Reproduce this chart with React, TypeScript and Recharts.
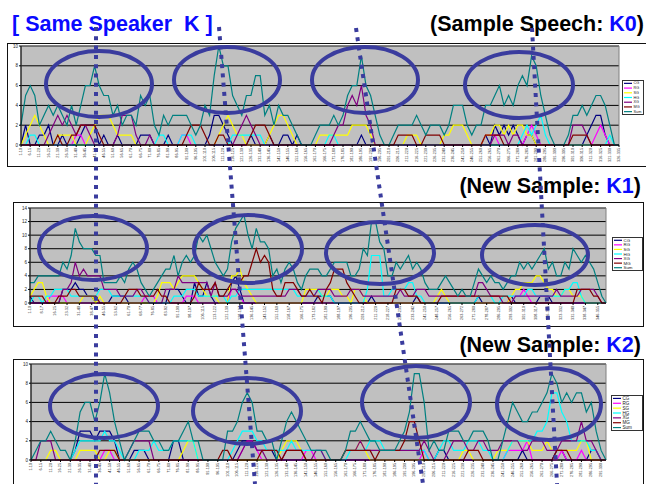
import React from 'react';
import { LineChart, Line, XAxis, YAxis, CartesianGrid, Legend, ReferenceArea } from 'recharts';

const seriesNames = ['CG', 'RG', 'SG', 'HG', 'XG', 'MG', 'Sum'];
const seriesColors = ['#000080', '#FF00FF', '#FFFF00', '#00FFFF', '#800080', '#800000', '#008080'];

// ---------- Panel 1 : Sample Speech K0 (131 windows) ----------
const p1CG = [
  0,2,0,0,1,1,2,0,0,1, 0,0,0,1,2,2,2,0,1,0, 0,1,0,0,0,0,1,1,1,0, 0,0,1,0,0,0,0,0,0,0,
  0,1,3,3,2,1,0,0,0,0, 1,0,0,0,1,0,0,1,1,0, 1,0,0,0,0,0,0,0,0,0, 0,0,0,0,1,0,0,0,0,0,
  0,0,0,0,0,0,0,0,0,0, 0,0,0,0,0,0,0,0,0,0, 0,1,0,2,1,2,1,2,1,0, 1,1,0,0,0,0,0,0,0,0,
  0,0,0,1,2,3,3,1,0,0,0,
];
const p1RG = [
  0,0,0,0,0,0,0,0,0,0, 0,0,1,1,0,0,0,0,0,0, 0,0,0,0,0,0,0,0,0,0, 0,0,0,0,0,1,1,0,0,0,
  0,0,0,0,0,0,0,0,0,0, 0,0,0,0,0,0,0,0,0,0, 0,0,0,0,0,0,0,0,0,0, 0,0,0,0,0,0,0,0,0,0,
  0,0,0,0,0,0,0,0,0,0, 0,0,0,0,0,0,0,0,0,0, 0,1,1,1,0,0,0,0,0,0, 1,2,1,0,0,0,0,0,0,0,
  0,0,0,0,0,1,2,1,0,0,0,
];
const p1SG = [
  0,1,2,3,2,1,0,0,1,1, 1,1,0,0,0,1,2,3,3,3, 2,1,1,1,1,0,0,0,0,0, 0,0,0,0,0,0,0,0,0,0,
  0,0,0,1,2,3,2,1,1,0, 0,0,0,0,1,2,3,3,2,1, 0,0,0,0,0,1,1,1,1,1, 1,1,2,2,2,2,1,0,0,0,
  0,0,0,0,1,1,1,0,0,0, 0,0,1,1,2,2,2,1,0,0, 0,1,1,2,2,1,2,1,2,2, 1,1,0,0,0,0,0,0,0,0,
  0,0,0,0,0,0,0,0,0,0,0,
];
const p1HG = [
  0,0,1,1,0,0,0,0,0,0, 0,0,0,0,0,0,0,0,0,0, 0,0,0,0,0,0,0,0,0,0, 1,1,0,0,0,1,1,1,0,0,
  0,0,0,0,0,0,1,1,1,1, 1,1,1,0,0,0,0,0,0,0, 0,0,0,0,0,0,0,1,1,0, 0,0,0,0,0,0,0,0,0,0,
  0,0,0,0,0,0,0,0,0,0, 0,0,0,0,0,0,0,0,0,0, 0,0,0,0,0,0,0,0,0,1, 2,1,2,3,1,0,0,0,0,0,
  0,0,0,0,0,0,0,0,1,0,0,
];
const p1XG = [
  0,0,0,0,0,0,1,2,3,2, 3,2,1,2,2,1,0,0,0,0, 0,1,3,3,3,1,0,0,1,0, 0,0,0,0,0,0,0,0,0,0,
  0,0,0,0,0,0,0,1,2,3, 2,1,0,0,0,0,0,0,0,0, 0,0,0,0,0,0,0,0,1,2, 2,4,5,4,6,3,2,0,0,0,
  0,0,0,0,0,0,0,0,0,0, 0,0,0,0,0,0,0,0,0,0, 0,0,0,1,1,1,0,1,1,0, 0,0,0,0,0,0,0,0,0,0,
  2,2,2,1,0,0,0,0,0,0,0,
];
const p1MG = [
  0,0,0,0,0,0,0,0,1,0, 0,1,1,2,2,2,2,1,0,0, 0,0,0,0,0,0,0,0,0,0, 0,0,0,0,0,0,1,2,2,2,
  1,0,0,1,1,0,0,0,0,0, 1,2,2,2,1,0,0,0,0,0, 0,0,0,0,0,0,0,0,0,0, 0,0,0,0,0,0,0,0,0,0,
  0,0,1,1,1,1,0,0,1,1, 1,1,0,0,0,0,0,0,0,0, 0,1,1,1,1,0,0,0,0,0, 0,0,0,0,0,0,0,0,0,0,
  1,1,1,1,0,0,0,0,0,0,0,
];
const p1Sum = [
  2,5,6,5,2,3,4,3,4,3, 2,4,2,4,6,6,8,6,5,5, 3,4,2,3,3,2,5,4,5,2, 1,3,2,3,3,3,3,2,1,2,
  4,3,7,10,8,8,5,4,3,5, 5,7,7,3,4,2,4,3,3,2, 1,0,0,0,1,2,2,2,3,2, 3,5,6,6,9,6,5,3,1,0,
  0,1,2,2,2,2,3,2,1,2, 2,2,1,2,4,4,4,2,1,2, 2,4,4,5,6,4,5,4,6,7, 6,9,8,5,3,1,0,0,0,1,
  3,3,4,3,4,5,5,4,2,0,0,
];

// ---------- Panel 2 : New Sample K1 (141 windows) ----------
const p2CG = [
  1,0,0,0,0,0,0,0,2,2, 2,3,2,2,1,1,0,0,0,0, 1,1,1,1,0,0,0,0,0,0, 0,0,0,0,2,2,2,1,0,0,
  3,1,1,3,1,0,0,0,0,3, 4,2,0,0,0,0,0,0,0,0, 0,0,0,0,0,0,0,0,0,0, 1,1,1,1,0,0,0,0,0,0,
  0,0,0,1,0,0,0,0,0,0, 0,0,0,0,1,0,0,0,0,0, 0,0,0,0,0,0,0,0,0,1, 0,0,0,0,0,0,0,1,0,0,
  0,0,0,0,1,1,1,0,0,0, 0,0,0,0,0,0,0,0,0,0,0,
];
const p2RG = [
  0,0,0,0,0,1,1,1,1,0, 0,0,0,0,0,0,0,0,0,0, 0,0,0,0,0,0,0,0,1,1, 1,0,0,0,0,0,0,0,1,1,
  1,0,0,0,0,0,0,0,0,2, 2,1,0,0,0,0,0,0,0,0, 0,0,0,0,0,0,0,0,0,0, 0,0,0,0,0,0,0,0,0,0,
  0,0,0,0,0,0,0,0,0,0, 0,0,0,0,0,0,0,0,0,0, 0,0,0,0,0,0,0,0,0,0, 0,0,0,0,0,0,0,1,1,1,
  2,1,0,0,0,0,0,0,0,0, 0,0,0,0,0,0,0,0,0,0,0,
];
const p2SG = [
  1,2,3,3,1,0,0,0,0,0, 0,0,0,1,1,1,0,1,0,0, 0,0,0,0,0,0,0,0,0,0, 0,1,3,3,3,2,3,4,4,4,
  4,3,2,1,1,1,0,0,0,4, 4,5,3,2,1,0,0,0,0,0, 0,0,0,0,0,0,0,2,2,2, 2,1,1,2,2,2,1,1,0,2,
  2,1,0,0,0,0,0,0,0,0, 0,0,0,0,0,0,0,0,0,1, 2,1,0,0,0,0,0,0,0,0, 0,0,0,0,0,0,0,1,2,2,
  3,3,3,4,4,3,2,2,1,1, 2,2,1,1,1,0,0,0,0,0,0,
];
const p2HG = [
  0,1,1,0,1,1,2,2,2,2, 1,1,1,1,1,1,1,2,2,2, 1,1,1,1,1,1,1,1,1,0, 0,0,0,0,0,1,1,1,2,2,
  2,1,1,1,1,1,1,1,0,1, 1,2,2,2,2,2,2,2,2,2, 2,2,2,2,2,1,1,1,1,1, 2,1,1,1,0,0,0,0,0,0,
  0,0,2,7,7,7,1,1,2,2, 2,2,3,3,1,1,0,0,0,0, 0,0,0,0,0,0,0,0,0,1, 1,1,1,0,0,1,1,1,1,1,
  1,2,2,1,1,1,1,1,1,1, 2,2,3,3,1,0,0,0,0,0,0,
];
const p2XG = [
  0,0,0,0,0,0,0,0,2,2, 3,6,4,5,4,4,4,4,2,2, 2,2,1,1,1,1,2,2,1,0, 0,0,0,2,2,2,4,3,3,3,
  3,3,3,3,1,3,1,1,1,2, 2,1,1,1,1,1,1,1,1,1, 1,1,1,2,2,2,1,1,1,1, 2,2,2,2,1,1,1,1,2,2,
  2,1,1,1,1,1,1,1,1,1, 2,1,1,1,2,2,2,1,1,1, 1,1,1,1,1,1,1,1,1,3, 3,2,1,1,1,0,0,0,1,1,
  1,1,1,1,1,1,1,1,2,1, 1,1,1,1,2,2,2,2,1,0,0,
];
const p2MG = [
  1,1,1,1,0,0,0,1,1,1, 2,2,1,1,1,1,1,0,0,0, 0,0,0,1,2,2,2,1,1,1, 1,2,1,1,0,0,0,0,0,0,
  1,3,2,2,2,3,1,1,2,3, 3,3,4,4,6,8,6,7,6,2, 1,1,3,3,3,2,1,1,2,1, 1,0,2,3,5,5,5,3,2,1,
  0,0,0,0,0,0,0,0,0,2, 2,2,1,1,1,0,0,0,0,0, 1,1,1,1,1,1,1,1,1,1, 1,1,1,1,1,1,1,0,0,0,
  0,0,0,0,0,0,0,0,0,0, 0,0,0,2,2,2,2,1,1,0,0,
];
const p2Sum = [
  3,3,4,4,4,4,4,4,6,5, 7,11,9,8,8,8,7,7,3,3, 3,3,4,3,5,6,5,3,2,1, 2,3,4,5,5,7,4,6,7,6,
  7,10,9,10,8,6,5,4,5,9, 11,12,13,10,8,11,9,9,8,4, 5,3,5,6,5,3,2,4,5,5, 5,4,4,5,6,6,6,6,4,4,
  5,8,7,12,12,9,8,4,4,6, 5,6,7,5,6,5,3,2,2,2, 3,4,3,2,1,2,1,1,3,5, 4,3,4,3,3,2,3,4,4,6,
  5,6,5,6,7,8,5,6,4,4, 6,5,8,7,6,7,6,5,3,1,0,
];

// ---------- Panel 3 : New Sample K2 (118 windows) ----------
const p3CG = [
  0,0,0,0,0,0,0,0,0,1, 3,3,3,2,3,3,3,2,0,0, 0,1,1,1,0,0,0,0,0,2, 2,0,0,0,0,0,0,0,0,0,
  0,0,1,2,2,2,1,1,1,1, 0,0,0,0,0,0,0,0,0,0, 0,0,0,0,0,0,0,0,0,0, 0,0,0,0,0,0,0,0,0,0,
  0,0,0,1,1,0,0,0,0,0, 0,0,0,0,0,0,0,0,0,0, 1,0,0,0,0,0,0,1,1,0, 0,0,0,0,1,1,0,0,
];
const p3RG = [
  0,0,0,0,0,0,0,0,0,0, 0,0,0,0,0,1,1,0,0,0, 0,0,0,0,0,0,0,0,0,0, 0,0,0,0,0,0,0,0,0,0,
  0,0,0,1,2,2,1,0,0,0, 0,0,0,0,0,0,1,1,0,0, 0,0,0,0,0,0,0,0,0,0, 0,0,0,0,0,0,0,0,0,0,
  1,0,0,0,0,0,0,0,0,0, 0,0,0,0,0,0,0,1,1,1, 1,2,0,0,0,0,0,0,1,0, 0,0,1,0,0,0,0,0,
];
const p3SG = [
  0,0,0,0,1,1,0,0,0,0, 1,1,1,1,0,0,1,1,0,0, 0,0,0,0,0,0,0,0,0,0, 0,1,2,2,0,0,0,0,0,0,
  0,0,0,0,0,0,0,0,0,0, 0,1,2,2,2,1,0,0,0,0, 0,0,0,0,1,1,1,2,1,0, 0,0,0,0,0,0,0,0,0,0,
  0,0,0,0,0,0,0,0,1,1, 0,0,0,0,0,1,1,1,2,2, 2,2,1,1,1,2,1,1,1,1, 1,1,2,2,0,0,0,0,
];
const p3HG = [
  0,0,0,0,0,0,0,0,0,1, 2,2,2,2,2,3,2,2,1,0, 0,0,1,1,1,2,1,1,1,2, 2,2,2,2,0,0,0,0,0,0,
  0,1,2,3,3,3,2,2,1,1, 1,1,1,2,1,1,1,1,1,1, 0,0,0,0,0,1,1,1,1,2, 2,2,1,1,1,1,1,1,1,1,
  1,0,0,1,2,2,1,1,1,2, 2,2,1,1,0,0,0,1,2,2, 2,2,2,3,3,4,7,7,5,4, 2,2,2,2,1,1,0,0,
];
const p3XG = [
  0,0,2,2,2,0,0,0,0,0, 0,0,0,0,0,0,0,0,0,0, 1,2,2,2,2,0,0,0,0,0, 0,0,0,0,0,0,0,0,0,0,
  0,0,0,1,2,2,1,1,0,0, 0,0,1,1,1,1,0,0,1,1, 0,0,0,0,1,1,1,2,1,1, 1,1,1,1,1,1,1,1,1,1,
  2,1,0,0,0,1,2,2,2,1, 1,2,2,1,1,1,2,2,2,2, 1,1,2,2,2,1,1,1,2,2, 2,2,4,2,2,1,0,0,
];
const p3MG = [
  0,0,0,0,0,0,0,0,0,0, 0,0,0,0,1,1,1,1,0,0, 0,0,0,0,0,0,0,0,0,0, 0,0,0,0,0,0,0,0,0,1,
  1,0,0,0,0,0,0,1,1,1, 1,0,1,1,1,1,0,0,0,0, 0,0,0,0,1,1,1,1,1,1, 0,1,1,1,1,1,2,4,4,2,
  0,0,0,0,0,0,0,0,0,1, 1,1,0,0,0,0,0,0,0,0, 0,0,0,0,0,0,0,1,1,1, 0,0,0,0,0,0,0,0,
];
const p3Sum = [
  0,1,2,2,3,2,1,1,0,2, 5,6,6,4,6,9,7,4,2,0, 1,2,3,3,3,2,2,1,1,2, 2,3,4,2,2,0,0,0,0,0,
  3,3,4,6,7,6,3,3,2,2, 0,2,4,5,4,3,2,1,1,1, 1,0,0,0,1,3,3,4,3,2, 2,1,1,1,1,2,3,5,9,9,
  6,1,2,1,1,3,3,3,2,2, 3,3,3,2,0,0,2,4,6,5, 4,4,5,5,6,7,9,8,6,7, 6,7,7,5,6,3,1,0,
];

// window labels on the category axis ("start-end" of each 10-frame window)
function windowLabels(n: number): string[] {
  return Array.from({ length: n }, (_, i) => {
    const s = 1 + Math.floor(i * 2.5);
    return `${s}-${s + 9}`;
  });
}
const p1Labels = windowLabels(p1Sum.length);
const p2Labels = windowLabels(p2Sum.length);
const p3Labels = windowLabels(p3Sum.length);

const p1Ticks = [0, 2, 4, 6, 8, 10];
const p2Ticks = [0, 2, 4, 6, 8, 10, 12, 14];
const p3Ticks = [0, 2, 4, 6, 8, 10];

function buildRows(labels: string[], series: number[][]) {
  return labels.map((label, i) => {
    const row: any = { label };
    seriesNames.forEach((n, k) => { row[n] = series[k][i]; });
    return row;
  });
}

const p1Rows = buildRows(p1Labels, [p1CG, p1RG, p1SG, p1HG, p1XG, p1MG, p1Sum]);
const p2Rows = buildRows(p2Labels, [p2CG, p2RG, p2SG, p2HG, p2XG, p2MG, p2Sum]);
const p3Rows = buildRows(p3Labels, [p3CG, p3RG, p3SG, p3HG, p3XG, p3MG, p3Sum]);

const FONT = '"Liberation Sans", Arial, sans-serif';

const XTick = (props: any) => {
  const { x, y, payload } = props;
  return (
    <text transform={`translate(${x},${y}) rotate(-90)`} textAnchor="end" dominantBaseline="central"
      fontSize={3.8} fill="#333" fontFamily={FONT}>{payload.value}</text>
  );
};

const LegendBox = ({ w, h, fs }: { w: number; h: number; fs: number }) => {
  const rowH = (h - 2) / seriesNames.length;
  return (
    <svg width={w} height={h} style={{ display: 'block' }}>
      <rect x={0.5} y={0.5} width={w - 1} height={h - 1} fill="#fff" stroke="#333" strokeWidth={1} />
      {seriesNames.map((n, k) => {
        const cy = 1 + rowH * (k + 0.5);
        return (
          <g key={n}>
            <line x1={2} x2={10} y1={cy} y2={cy} stroke={seriesColors[k]} strokeWidth={1.2} />
            <text x={11.5} y={cy} dominantBaseline="central" fontSize={fs} fill="#222" fontFamily={FONT}>{n}</text>
          </g>
        );
      })}
    </svg>
  );
};

type Cfg = {
  left: number; top: number; width: number; height: number;
  yw: number; mt: number; mr: number; mb: number; xh: number;
  yMax: number; ticks: number[]; interval: number;
  lg: { left: number; top: number; w: number; h: number; fs: number };
  frameH: number;
};

const cfg1: Cfg = {
  left: 7, top: 43, width: 639, height: 124, yw: 14, mt: 3, mr: 27, mb: 4, xh: 18,
  yMax: 10, ticks: p1Ticks, interval: 1,
  lg: { left: 615, top: 37, w: 22, h: 35, fs: 3.8 }, frameH: 124,
};
const cfg2: Cfg = {
  left: 13, top: 202, width: 630, height: 125, yw: 17, mt: 6, mr: 37, mb: 4, xh: 20,
  yMax: 14, ticks: p2Ticks, interval: 2,
  lg: { left: 599, top: 35, w: 31, h: 34, fs: 4.4 }, frameH: 125,
};
const cfg3: Cfg = {
  left: 13, top: 359, width: 630, height: 127, yw: 18, mt: 5, mr: 37, mb: 4, xh: 22,
  yMax: 10, ticks: p3Ticks, interval: 1,
  lg: { left: 598, top: 36, w: 32, h: 36, fs: 4.6 }, frameH: 130,
};

const Panel = ({ cfg, rows, labels }: { cfg: Cfg; rows: any[]; labels: string[] }) => (
  <>
    <div style={{
      position: 'absolute', left: cfg.left, top: cfg.top, width: cfg.width + 1, height: cfg.frameH,
      border: '1.5px solid #111', boxSizing: 'border-box', background: '#fff',
    }} />
    <div style={{ position: 'absolute', left: cfg.left, top: cfg.top, width: cfg.width, height: cfg.height }}>
      <LineChart width={cfg.width} height={cfg.height} data={rows}
        margin={{ top: cfg.mt, right: cfg.mr, bottom: cfg.mb, left: 0 }}>
        <CartesianGrid vertical={false} stroke="#000" strokeWidth={1} fill="#C0C0C0" fillOpacity={1} />
        <ReferenceArea x1={labels[0]} x2={labels[labels.length - 1]} y1={0} y2={cfg.yMax}
          fill="none" stroke="#808080" strokeWidth={1} ifOverflow="visible" />
        <XAxis dataKey="label" interval={cfg.interval} height={cfg.xh} tick={XTick}
          tickSize={2} tickMargin={1} tickLine={{ stroke: '#000' }} axisLine={{ stroke: '#000' }} />
        <YAxis width={cfg.yw} type="number" domain={[0, cfg.yMax]} ticks={cfg.ticks} interval={0}
          tickSize={2} tickMargin={1} tickLine={{ stroke: '#000' }} axisLine={{ stroke: '#000' }}
          tick={{ fontSize: 4.5, fill: '#222', fontFamily: FONT }} />
        {seriesNames.map((n, k) => (
          <Line key={n} dataKey={n} type="linear" stroke={seriesColors[k]} strokeWidth={1.2}
            dot={false} activeDot={false} isAnimationActive={false} />
        ))}
        <Legend layout="vertical" align="center" verticalAlign="middle"
          wrapperStyle={{ left: cfg.lg.left, top: cfg.lg.top, width: cfg.lg.w, height: cfg.lg.h, margin: 0, padding: 0 }}
          content={() => <LegendBox w={cfg.lg.w} h={cfg.lg.h} fs={cfg.lg.fs} />} />
      </LineChart>
    </div>
  </>
);

// annotation overlay (highlight ellipses and alignment guides)
const ellipses = [
  [99, 84, 53, 33], [227, 80, 53, 33], [365, 80, 53, 33], [519, 85, 54, 33],
  [93, 248, 54, 32], [248, 249, 54, 34], [380, 253, 54, 31], [535, 255, 53, 30],
  [104, 406, 54, 32], [247, 411, 54, 33], [416, 402, 54, 36], [549, 404, 52, 36],
];
const guides = [
  [96, 27, 96, 484], [219, 27, 255, 484], [356, 28, 423, 484], [532, 28, 557, 484],
];

const BLUE = '#0a0aff';
const MARK = '#3a3c9e';

export default function App() {
  return (
    <div style={{ position: 'absolute', left: 0, top: 0, width: 646, height: 484, overflow: 'hidden', background: '#fff', fontFamily: FONT }}>
      <Panel cfg={cfg1} rows={p1Rows} labels={p1Labels} />
      <Panel cfg={cfg2} rows={p2Rows} labels={p2Labels} />
      <Panel cfg={cfg3} rows={p3Rows} labels={p3Labels} />
      <svg width={646} height={484} style={{ position: 'absolute', left: 0, top: 0, pointerEvents: 'none' }}>
        <g fontFamily={FONT} fontWeight="bold" fontSize={21.5}>
          <text x={12} y={31} fill={BLUE} xmlSpace="preserve">{'[ Same Speaker\u00A0 K ]'}</text>
          <text x={644} y={31} textAnchor="end" fill="#000">
            {'(Sample Speech: '}<tspan fill={BLUE}>K0</tspan>{')'}
          </text>
          <text x={641} y={193} textAnchor="end" fill="#000">
            {'(New Sample: '}<tspan fill={BLUE}>K1</tspan>{')'}
          </text>
          <text x={641} y={352} textAnchor="end" fill="#000">
            {'(New Sample: '}<tspan fill={BLUE}>K2</tspan>{')'}
          </text>
        </g>
        {ellipses.map(([cx, cy, rx, ry], i) => (
          <ellipse key={`e${i}`} cx={cx} cy={cy} rx={rx} ry={ry} fill="none" stroke={MARK} strokeWidth={4} />
        ))}
        {guides.map(([x1, y1, x2, y2], i) => (
          <line key={`g${i}`} x1={x1} y1={y1} x2={x2} y2={y2} stroke={MARK} strokeWidth={4} strokeDasharray="4 5.3" />
        ))}
      </svg>
    </div>
  );
}
